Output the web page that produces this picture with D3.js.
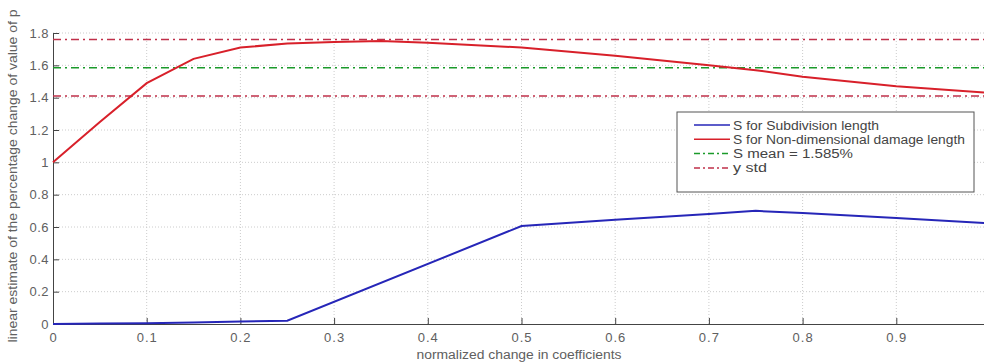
<!DOCTYPE html>
<html><head><meta charset="utf-8">
<script src="https://cdn.jsdelivr.net/npm/d3@7"></script>
<style>body{margin:0;background:#fff}svg{display:block}text{font-family:"Liberation Sans",Arial,sans-serif}</style>
</head><body><svg id="c" width="984" height="363"></svg>
<script>
const xTicks = [0,0.1,0.2,0.3,0.4,0.5,0.6,0.7,0.8,0.9];
const xTickLabels = ["0","0.1","0.2","0.3","0.4","0.5","0.6","0.7","0.8","0.9"];
const yTicks = [0,0.2,0.4,0.6,0.8,1,1.2,1.4,1.6,1.8];
const yTickLabels = ["0","0.2","0.4","0.6","0.8","1","1.2","1.4","1.6","1.8"];
const blueX = [0,0.05,0.1,0.15,0.2,0.25,0.5,0.6,0.7,0.75,0.8,0.9,1.0];
const blueY = [0,0.003,0.005,0.01,0.015,0.02,0.606,0.645,0.68,0.70,0.686,0.655,0.622];
const redX = [0,0.05,0.1,0.15,0.2,0.25,0.3,0.35,0.4,0.5,0.6,0.7,0.75,0.8,0.9,1.0];
const redY = [1.0,1.25,1.49,1.64,1.71,1.735,1.745,1.75,1.74,1.71,1.66,1.60,1.57,1.53,1.47,1.43];
const sMean = 1.585;
const yStdHigh = 1.76;
const yStdLow = 1.41;
const legendLabels = ["S for Subdivision length","S for Non-dimensional damage length","S mean = 1.585%","y std"];
const xLabel = "normalized change in coefficients";
const yLabel = "linear estimate of the percentage change of value of p";

const svg = d3.select("#c");
const x = d3.scaleLinear().domain([0,1]).range([53,990]);
const y = d3.scaleLinear().domain([0,1.8]).range([324,33]);
const tc = "#606060";

// grid
const g = svg.append("g");
g.selectAll(".gx").data(xTicks.slice(1)).join("line")
 .attr("x1",d=>x(d)).attr("x2",d=>x(d)).attr("y1",y(0)).attr("y2",y(1.8))
 .attr("stroke","#cccccc").attr("stroke-width",1).attr("stroke-dasharray","1,2");
g.selectAll(".gy").data(yTicks.slice(1)).join("line")
 .attr("x1",x(0)).attr("x2",984).attr("y1",d=>y(d)).attr("y2",d=>y(d))
 .attr("stroke","#cccccc").attr("stroke-width",1).attr("stroke-dasharray","1,2");

// axes
const xa = svg.append("g").attr("transform",`translate(0,${y(0)})`)
 .call(d3.axisBottom(x).tickValues(xTicks).tickFormat((d,i)=>xTickLabels[i]).tickSizeInner(-6).tickSizeOuter(0).tickPadding(9));
xa.select(".domain").attr("stroke","#444");
xa.selectAll(".tick line").attr("stroke","#444");
xa.selectAll("text").attr("fill",tc).attr("font-size",13).attr("letter-spacing",1);
const ya = svg.append("g").attr("transform",`translate(${x(0)},0)`)
 .call(d3.axisLeft(y).tickValues(yTicks).tickFormat((d,i)=>yTickLabels[i]).tickSizeInner(-6).tickSizeOuter(0).tickPadding(4));
ya.select(".domain").attr("stroke","#444");
ya.selectAll(".tick line").attr("stroke","#444");
ya.selectAll("text").attr("fill",tc).attr("font-size",13).attr("letter-spacing",0.5);

// reference lines
const hl = (v,col,dash)=>svg.append("line").attr("x1",x(0)).attr("x2",984).attr("y1",y(v)).attr("y2",y(v))
 .attr("stroke",col).attr("stroke-width",1.5).attr("stroke-dasharray",dash);
hl(yStdHigh,"#c0304a","8,4,2,4");
hl(yStdLow,"#c0304a","8,4,2,4");
hl(sMean,"#1a9a2a","8,4,2,4");

const line = d3.line().x(d=>x(d[0])).y(d=>y(d[1]));
svg.append("path").datum(blueX.map((v,i)=>[v,blueY[i]])).attr("d",line)
 .attr("fill","none").attr("stroke","#2626b8").attr("stroke-width",2);
svg.append("path").datum(redX.map((v,i)=>[v,redY[i]])).attr("d",line)
 .attr("fill","none").attr("stroke","#d8202a").attr("stroke-width",2);

// legend
const lg = svg.append("g");
lg.append("rect").attr("x",677).attr("y",112).attr("width",297).attr("height",80)
 .attr("fill","#fff").attr("stroke","#555").attr("stroke-width",1);
const lcols = ["#2626b8","#d8202a","#1a9a2a","#c0304a"];
const ldash = [null,null,"6,3,2,3","6,3,2,3"];
const lwid = [146,232,120,34];
legendLabels.forEach((t,i)=>{
  const yy = 125 + i*14.3;
  lg.append("line").attr("x1",694).attr("x2",730).attr("y1",yy).attr("y2",yy)
   .attr("stroke",lcols[i]).attr("stroke-width",1.5).attr("stroke-dasharray",ldash[i]);
  lg.append("text").attr("x",733).attr("y",yy+4.5).attr("font-size",12).attr("fill","#444")
   .attr("textLength",lwid[i]).attr("lengthAdjust","spacingAndGlyphs").text(t);
});

// axis labels
svg.append("text").attr("x",519).attr("y",359).attr("text-anchor","middle").attr("font-size",12.5).attr("fill",tc)
 .attr("textLength",205).attr("lengthAdjust","spacingAndGlyphs").text(xLabel);
svg.append("text").attr("transform","translate(17,176) rotate(-90)").attr("text-anchor","middle").attr("font-size",12.5).attr("fill",tc)
 .attr("textLength",333).attr("lengthAdjust","spacingAndGlyphs").text(yLabel);
</script></body></html>
